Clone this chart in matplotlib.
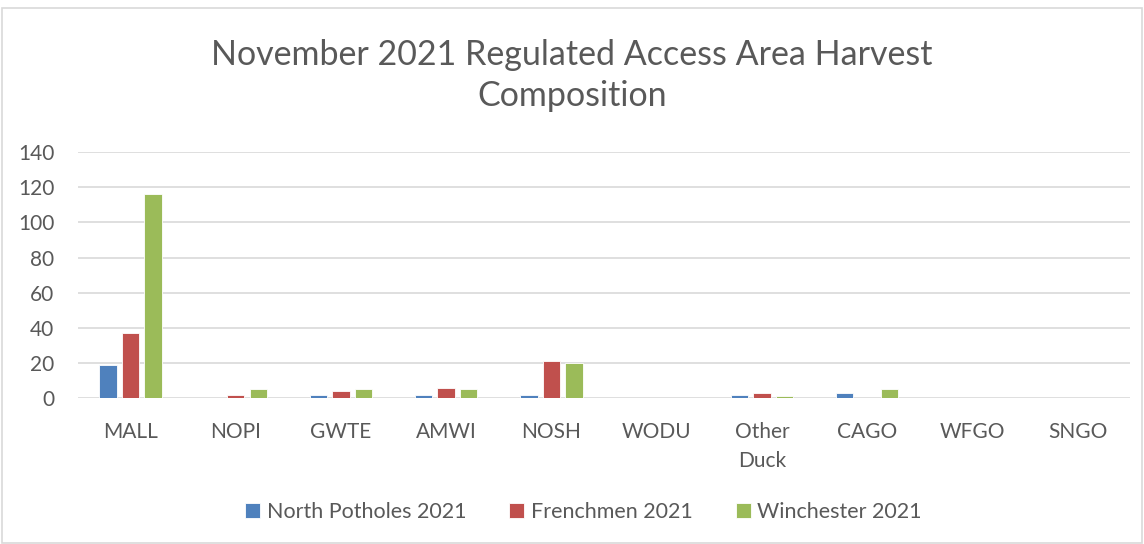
import numpy as np
import matplotlib.pyplot as plt
from matplotlib.patches import Rectangle

categories = ["MALL", "NOPI", "GWTE", "AMWI", "NOSH", "WODU", "Other\nDuck", "CAGO", "WFGO", "SNGO"]
north_potholes = [19, 0, 2, 2, 2, 0, 2, 3, 0, 0]
frenchmen = [37, 2, 4, 6, 21, 0, 3, 0, 0, 0]
winchester = [116, 5, 5, 5, 20, 0, 1, 5, 0, 0]
series_names = ["North Potholes 2021", "Frenchmen 2021", "Winchester 2021"]
colors = ["#4F81BD", "#C0504D", "#9BBB59"]
yticks = [0, 20, 40, 60, 80, 100, 120, 140]

plt.rcParams['font.family'] = ['Lato', 'DejaVu Sans']
text_col = "#595959"

fig = plt.figure(figsize=(11.44, 5.44), dpi=100)
ax = fig.add_axes([0.068, 0.268, 0.92, 0.4522])

x = np.arange(len(categories))
w = 0.165
off = 0.214
for i, vals in enumerate([north_potholes, frenchmen, winchester]):
    ax.bar(x + (i - 1) * off, vals, width=w, color=colors[i], label=series_names[i],
           edgecolor="white", linewidth=0.6, zorder=3)

ax.set_xlim(-0.5, len(categories) - 0.5)
ax.set_ylim(0, 140)
ax.set_yticks(yticks)
ax.set_xticks(x)
ax.set_xticklabels(categories, fontsize=15, color=text_col, linespacing=1.6)
ax.tick_params(axis='y', labelsize=15, colors=text_col, length=0, pad=17)
ax.tick_params(axis='x', length=0, pad=17, colors=text_col)
ax.grid(axis='y', color="#D9D9D9", linewidth=1.2, zorder=0)
for s in ax.spines.values():
    s.set_visible(False)

fig.text(0.5, 0.862, "November 2021 Regulated Access Area Harvest\nComposition",
         ha='center', va='center', fontsize=24.5, color=text_col, linespacing=1.35)

leg = fig.legend(loc='center', bbox_to_anchor=(0.51, 0.059), ncol=3, frameon=False,
                 fontsize=15.5, handlelength=0.7, handleheight=0.7, handletextpad=0.3,
                 columnspacing=2.0, labelcolor=text_col)

fig.patches.append(Rectangle((0.002, 0.002), 0.996, 0.984, transform=fig.transFigure,
                             fill=False, edgecolor="#D9D9D9", linewidth=1.2))

fig.savefig("out.png", dpi=100)
